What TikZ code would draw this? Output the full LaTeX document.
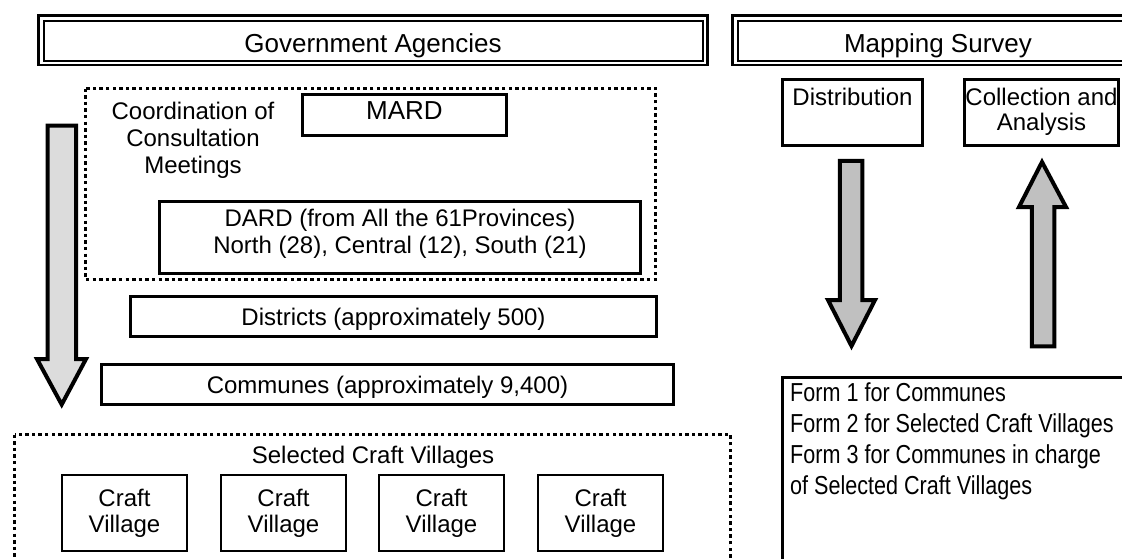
\documentclass[tikz,border=0pt]{standalone}
\usepackage{fontspec}
\setmainfont{Liberation Sans}
\newfontfamily\formfont[FakeStretch=0.83]{Liberation Sans}
\definecolor{lightfill}{HTML}{DCDCDC}
\definecolor{midfill}{HTML}{C0C0C0}
\begin{document}
\begin{tikzpicture}[x=1pt,y=-1pt,
  txt/.style={inner sep=0pt,font=\fontsize{24}{27}\selectfont,align=center},
  bigtxt/.style={inner sep=0pt,font=\fontsize{26}{30}\selectfont},
  formtxt/.style={inner sep=0pt,anchor=base west,font=\formfont\fontsize{26}{31}\selectfont},
  box/.style={draw,line width=3.3pt,inner sep=0pt},
  thinbox/.style={draw,line width=1.8pt,inner sep=0pt,minimum width=125.5pt,minimum height=76.5pt,
    font=\fontsize{24}{26}\selectfont,align=center},
  dotbox/.style={draw,line width=3.4pt,dash pattern=on 3.4pt off 3.2pt},
  outerframe/.style={draw,line width=2.8pt},
  innerframe/.style={draw,line width=2pt},
  blockarrow/.style={draw,line width=4pt,line join=miter,miter limit=10}
]
\useasboundingbox (0,0) rectangle (1122,558);
\clip (0,0) rectangle (1122,558);

% --- title bars (double frames) ---
\draw[outerframe] (38.3,15.5) rectangle (707.3,65);
\draw[innerframe] (43.8,20.8) rectangle (703,61);
\node[bigtxt,anchor=base] (gov) at (373,52) {Government Agencies};

\draw[outerframe] (732.5,15.5) rectangle (1140,65);
\draw[innerframe] (737.8,20.8) rectangle (1135,61);
\node[bigtxt,anchor=base] (survey) at (938,52.5) {Mapping Survey};

% --- coordination group ---
\draw[dotbox] (85.5,88.5) rectangle (655.5,279.5);
\node[txt,anchor=north] (coord) at (193,101.5) {Coordination of\\Consultation\\Meetings};

\node[box,minimum width=204pt,minimum height=41pt] (mardbox) at (404.5,115) {};
\node[bigtxt,anchor=base] (mard) at (404.5,119.5) {MARD};

\node[box,minimum width=481pt,minimum height=72pt] (dardbox) at (400,237.5) {};
\node[txt,anchor=north] (dard) at (400,208.5)
  {DARD (from All the 61Provinces)\\North (28), Central (12), South (21)};

\node[box,minimum width=526pt,minimum height=40pt] (distbox) at (393.5,316.5) {};
\node[txt,anchor=base] (districts) at (393.5,325) {Districts (approximately 500)};

\node[box,minimum width=572pt,minimum height=40pt] (commbox) at (387.5,384.5) {};
\node[txt,anchor=base] (communes) at (387.5,393) {Communes (approximately 9,400)};

% --- top-down flow arrow ---
\draw[blockarrow,fill=lightfill]
  (47.5,125.5) -- (76,125.5) -- (76,359) -- (86,359) -- (61.7,404.5)
  -- (37,359) -- (47.5,359) -- cycle;

% --- selected craft villages ---
\draw[dotbox] (14.5,434.5) rectangle (730.5,600);
\node[txt,anchor=base] (selected) at (373,463) {Selected Craft Villages};
\node[thinbox] (cv1) at (124.5,513) {Craft\\Village};
\node[thinbox] (cv2) at (283.5,513) {Craft\\Village};
\node[thinbox] (cv3) at (441.5,513) {Craft\\Village};
\node[thinbox] (cv4) at (600.5,513) {Craft\\Village};

% --- mapping survey side ---
\node[box,minimum width=140pt,minimum height=66pt] (distribbox) at (852.5,112.5) {};
\node[txt,anchor=base] (distrib) at (852.5,105) {Distribution};

\node[box,minimum width=154pt,minimum height=66pt] (collbox) at (1041.5,112.5) {};
\node[txt,anchor=north,font=\fontsize{24}{25}\selectfont] (coll) at (1041.5,87.5) {Collection and\\Analysis};

\draw[blockarrow,fill=midfill]
  (839.8,160.8) -- (862.3,160.8) -- (862.3,300) -- (875,300) -- (851.5,346)
  -- (828,300) -- (839.8,300) -- cycle;

\draw[blockarrow,fill=midfill]
  (1031.8,346.3) -- (1054.3,346.3) -- (1054.3,207) -- (1066,207) -- (1042,162)
  -- (1019,207) -- (1031.8,207) -- cycle;

\draw[line width=3.3pt] (782.5,600) |- (1140,377.5);
\node[formtxt] (f1) at (790,401) {Form 1 for Communes};
\node[formtxt] (f2) at (790,432) {Form 2 for Selected Craft Villages};
\node[formtxt] (f3) at (790,463) {Form 3 for Communes in charge};
\node[formtxt] (f4) at (790,494) {of Selected Craft Villages};
\end{tikzpicture}
\end{document}
